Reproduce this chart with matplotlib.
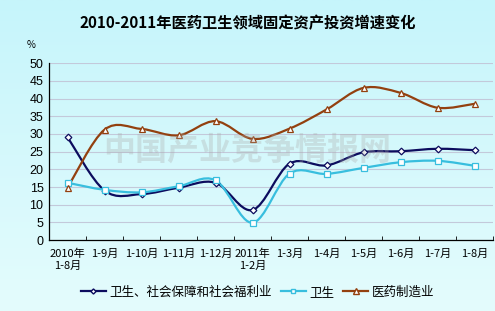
import numpy as np
import matplotlib
matplotlib.use("Agg")
import matplotlib.pyplot as plt
from matplotlib.path import Path
from matplotlib.patches import PathPatch

plt.rcParams['font.family'] = ['Noto Sans CJK SC', 'DejaVu Sans']

categories = ["2010年\n1-8月", "1-9月", "1-10月", "1-11月", "1-12月", "2011年\n1-2月",
              "1-3月", "1-4月", "1-5月", "1-6月", "1-7月", "1-8月"]
health_social = [29.1, 14.0, 13.0, 14.8, 16.2, 8.5, 21.6, 21.1, 24.8, 25.1, 25.8, 25.4]
health = [16.2, 14.2, 13.5, 15.2, 16.9, 4.9, 18.8, 18.7, 20.4, 22.0, 22.4, 21.0]
pharma = [14.8, 31.2, 31.4, 29.6, 33.6, 28.6, 31.5, 36.9, 43.0, 41.6, 37.4, 38.5]
series_names = ["卫生、社会保障和社会福利业", "卫生", "医药制造业"]


def smooth_path(xs, ys):
    # Excel-style smoothed line: cubic bezier through every point
    pts = np.column_stack([xs, ys]).astype(float)
    ext = np.vstack([pts[0], pts, pts[-1]])
    verts = [tuple(pts[0])]
    codes = [Path.MOVETO]
    for i in range(len(pts) - 1):
        p0, p1, p2, p3 = ext[i], ext[i + 1], ext[i + 2], ext[i + 3]
        c1 = p1 + (p2 - p0) / 6.0
        c2 = p2 - (p3 - p1) / 6.0
        verts += [tuple(c1), tuple(c2), tuple(p2)]
        codes += [Path.CURVE4] * 3
    return Path(verts, codes)


fig = plt.figure(figsize=(4.95, 3.11), dpi=100)

# background gradient
bg = fig.add_axes([0, 0, 1, 1], zorder=-10)
grad = np.linspace(0, 1, 256).reshape(-1, 1)
top = np.array([198, 245, 251]) / 255.0
bot = np.array([228, 252, 253]) / 255.0
img = top[None, None, :] * (1 - grad[:, :, None]) + bot[None, None, :] * grad[:, :, None]
bg.imshow(img, aspect='auto', extent=[0, 1, 0, 1])
bg.axis('off')

ax = fig.add_axes([0.099, 0.228, 0.897, 0.569])
ax.patch.set_alpha(0)

x = np.arange(len(categories))
styles = [
    (health_social, "#0c0c5e", 'D', 3.4),
    (health, "#38bede", 's', 4.0),
    (pharma, "#93400f", '^', 4.4),
]
for (vals, col, mk, ms), name in zip(styles, series_names):
    ax.add_patch(PathPatch(smooth_path(x, vals), facecolor='none', edgecolor=col,
                           lw=1.6, zorder=3))
    ax.plot(x, vals, linestyle='none', marker=mk, markersize=ms, markerfacecolor='white',
            markeredgecolor=col, markeredgewidth=0.9, zorder=4)
    ax.plot([], [], color=col, lw=1.6, marker=mk, markersize=ms - 0.8,
            markerfacecolor='white', markeredgecolor=col, label=name)

ax.set_xlim(-0.5, len(categories) - 0.5)
ax.set_ylim(0, 50)
ax.set_yticks(np.arange(0, 51, 5))
ax.yaxis.grid(True, color="#c3c9da", lw=0.8)
ax.set_axisbelow(True)
for s in ['top', 'right']:
    ax.spines[s].set_visible(False)
ax.spines['left'].set_linewidth(0.9)
ax.spines['bottom'].set_linewidth(0.9)
ax.set_xticks(x)
ax.set_xticklabels(categories, fontsize=8, linespacing=1.25, va='top')
ax.set_xticks(np.arange(-0.5, len(categories), 1), minor=True)
ax.tick_params(axis='x', which='major', length=0, pad=6)
ax.tick_params(axis='x', which='minor', length=3, direction='in')
ax.tick_params(axis='y', length=0, labelsize=9, pad=4)
for lbl in ax.get_yticklabels():
    lbl.set_family(['Liberation Sans', 'DejaVu Sans'])

# watermark
fig.text(0.5, 0.515, "中国产业竞争情报网", fontsize=23, fontweight='bold', color='#a8a8a8',
         alpha=0.3, ha='center', va='center', zorder=5)

fig.text(0.063, 0.855, "%", fontsize=7, ha='center', va='center')
fig.text(0.5, 0.927, "2010-2011年医药卫生领域固定资产投资增速变化", fontsize=11,
         fontweight='bold', ha='center', va='center')

fig.legend(loc='center', bbox_to_anchor=(0.52, 0.06), ncol=3, frameon=False,
           fontsize=9, handlelength=2.0, handletextpad=0.3, columnspacing=0.7)

fig.savefig("out.png", dpi=100)
